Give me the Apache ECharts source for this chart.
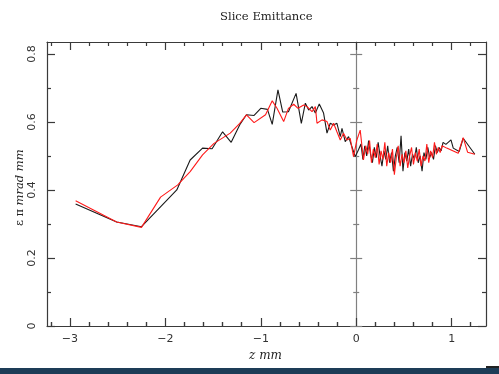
<!DOCTYPE html>
<html>
<head>
<meta charset="utf-8">
<script src="https://cdn.jsdelivr.net/npm/echarts@6/dist/echarts.min.js"></script>
<style>
html,body{margin:0;padding:0;background:#fff;}
#c{width:499px;height:374px;}
</style>
</head>
<body>
<div id="c"></div>
<script>
// ---- data ----
const blackX = [-2.94,-2.51,-2.25,-1.88,-1.74,-1.61,-1.51,-1.40,-1.31,-1.22,-1.15,-1.07,-1.00,-0.93,-0.88,-0.82,-0.77,-0.71,-0.63,
  -0.575,-0.533,-0.498,-0.463,-0.428,-0.387,-0.342,-0.306,-0.272,-0.237,-0.202,-0.167,-0.149,-0.115,-0.080,-0.045,-0.010,0.024,
  0.05,0.07,0.09,0.11,0.13,0.15,0.17,0.19,0.21,0.23,0.25,0.27,0.29,0.31,0.33,0.35,0.37,0.39,0.41,0.43,0.45,0.47,0.49,
  0.51,0.53,0.55,0.57,0.59,0.61,0.63,0.65,0.67,0.69,0.71,0.73,0.75,0.77,0.79,0.81,0.83,0.85,0.87,0.89,0.91,
  0.94,0.993,1.017,1.079,1.121,1.243];
const blackY = [0.359,0.306,0.292,0.400,0.488,0.523,0.521,0.571,0.540,0.592,0.621,0.619,0.640,0.637,0.593,0.694,0.629,0.630,0.684,
  0.596,0.655,0.635,0.645,0.626,0.653,0.626,0.567,0.596,0.591,0.596,0.557,0.581,0.542,0.557,0.527,0.498,0.518,
  0.535,0.490,0.530,0.500,0.545,0.505,0.480,0.525,0.495,0.540,0.500,0.470,0.515,0.490,0.530,0.480,0.510,0.455,0.500,0.525,0.480,0.559,0.455,
  0.510,0.485,0.520,0.470,0.505,0.490,0.525,0.480,0.500,0.455,0.510,0.490,0.525,0.495,0.510,0.490,0.530,0.510,0.525,0.515,0.540,
  0.534,0.547,0.523,0.513,0.552,0.505];
const redX = [-2.94,-2.51,-2.25,-2.05,-1.87,-1.74,-1.61,-1.49,-1.32,-1.22,-1.15,-1.07,-0.95,-0.88,-0.83,-0.76,-0.71,-0.655,-0.61,-0.55,
  -0.515,-0.463,-0.428,-0.411,-0.358,-0.306,-0.272,-0.237,-0.202,-0.167,-0.133,-0.097,-0.063,-0.028,0.007,0.042,0.076,
  0.10,0.12,0.14,0.16,0.18,0.20,0.22,0.24,0.26,0.28,0.30,0.32,0.34,0.36,0.38,0.40,0.42,0.44,0.46,0.48,0.50,0.52,0.54,0.56,0.58,
  0.60,0.62,0.64,0.66,0.68,0.70,0.72,0.74,0.76,0.78,0.80,0.82,0.84,0.86,0.88,0.90,
  0.948,1.069,1.121,1.167,1.243];
const redY = [0.368,0.306,0.290,0.379,0.415,0.454,0.503,0.537,0.567,0.596,0.621,0.598,0.621,0.662,0.640,0.601,0.640,0.652,0.640,0.650,
  0.645,0.630,0.645,0.596,0.606,0.601,0.576,0.596,0.571,0.547,0.567,0.547,0.552,0.498,0.547,0.576,0.488,
  0.530,0.505,0.545,0.480,0.520,0.495,0.535,0.475,0.515,0.490,0.540,0.470,0.510,0.480,0.520,0.445,0.495,0.530,0.470,0.505,0.480,0.515,0.465,0.500,0.525,
  0.475,0.510,0.485,0.520,0.470,0.500,0.485,0.535,0.480,0.515,0.495,0.540,0.505,0.525,0.510,0.530,
  0.523,0.508,0.554,0.511,0.505];
const xTickLabels = [-3,-2,-1,0,1];
const xMinorTicks = [-3.2,-2.8,-2.6,-2.4,-2.2,-1.8,-1.6,-1.4,-1.2,-0.8,-0.6,-0.4,-0.2,0.2,0.4,0.6,0.8,1.2];
const yTickLabels = [0,0.2,0.4,0.6,0.8];
const yMinorTicks = [0.1,0.3,0.5,0.7];

const pairs = (xs, ys) => xs.map((x, i) => [x, ys[i]]);

const frame = '#3a3a3a';
const zeroCol = '#808080';
const X_MIN = -3.24, X_MAX = 1.36, Y_MIN = 0, Y_MAX = 0.835;
const fmt = v => String(v).replace('-', '\u2212');

const mkX = (pos, vals, len, line) => ({
  type: 'value', min: X_MIN, max: X_MAX, position: pos, splitLine: {show: false},
  axisLine: {show: line, onZero: false, lineStyle: {color: frame, width: 1.2}},
  axisTick: {show: true, inside: true, length: len, customValues: vals, lineStyle: {color: frame, width: 1.2}},
  minorTick: {show: false}, axisLabel: {show: false}
});
const mkY = (pos, vals, len, line, col, inside, zeroIdx) => ({
  type: 'value', min: Y_MIN, max: Y_MAX, position: pos, splitLine: {show: false},
  axisLine: {show: line, onZero: zeroIdx != null, onZeroAxisIndex: zeroIdx, lineStyle: {color: col, width: 1.2}},
  axisTick: {show: true, inside: inside, length: len, customValues: vals, lineStyle: {color: col, width: 1.2}},
  minorTick: {show: false}, axisLabel: {show: false}
});

const xLabelAxis = mkX('bottom', xTickLabels, 8, true);
xLabelAxis.axisLabel = {show: true, margin: 8, customValues: xTickLabels,
  fontFamily: 'DejaVu Sans', fontSize: 11, color: '#333', formatter: v => fmt(v)};
const yLabelAxis = mkY('left', yTickLabels, 8, true, frame, true, null);
yLabelAxis.axisLabel = {show: true, rotate: 90, margin: 9, customValues: yTickLabels,
  fontFamily: 'DejaVu Sans', fontSize: 11, color: '#333', formatter: v => String(v)};

const chart = echarts.init(document.getElementById('c'), null, {renderer: 'canvas'});
chart.setOption({
  animation: false,
  backgroundColor: '#fff',
  grid: {left: 47, right: 13, top: 42, bottom: 48},
  xAxis: [
    xLabelAxis,
    mkX('top', xTickLabels, 8, true),
    mkX('bottom', xMinorTicks, 4, false),
    mkX('top', xMinorTicks, 4, false),
    mkX('bottom', xMinorTicks, 4, false)
  ],
  yAxis: [
    yLabelAxis,
    mkY('right', yTickLabels, 8, true, frame, true, null),
    mkY('left', yMinorTicks, 4, false, frame, true, null),
    mkY('right', yMinorTicks, 4, false, frame, true, null),
    mkY('left', yTickLabels, 6, true, zeroCol, true, 0),
    mkY('left', yTickLabels, 6, false, zeroCol, false, 1),
    mkY('left', yMinorTicks, 3, false, zeroCol, true, 2),
    mkY('left', yMinorTicks, 3, false, zeroCol, false, 3)
  ],
  series: [
    {type: 'line', xAxisIndex: 0, yAxisIndex: 0, data: pairs(blackX, blackY), showSymbol: false, symbol: 'none',
      lineStyle: {color: '#1a1a1a', width: 1.1}, z: 3},
    {type: 'line', xAxisIndex: 0, yAxisIndex: 0, data: pairs(redX, redY), showSymbol: false, symbol: 'none',
      lineStyle: {color: '#ff1a1a', width: 1.1}, z: 4}
  ],
  graphic: [
    {type: 'text', left: 220, top: 11, style: {text: 'Slice Emittance', font: '11.6px "DejaVu Serif"', fill: '#222'}},
    {type: 'text', x: 249, y: 350, style: {text: 'z mm', font: 'italic 12px "DejaVu Serif"', fill: '#222'}},
    {type: 'text', x: 14, y: 226, rotation: Math.PI / 2,
      style: {text: '{a|\u03b5 \u03c0} {b|mrad mm}', fill: '#222',
        rich: {a: {font: '11.5px "DejaVu Serif"', fill: '#222'}, b: {font: 'italic 11.5px "DejaVu Serif"', fill: '#222'}}}},
    {type: 'rect', shape: {x: 0, y: 368, width: 499, height: 6}, style: {fill: '#1d3c57'}},
    {type: 'rect', shape: {x: 486, y: 366, width: 13, height: 2}, style: {fill: '#222'}}
  ]
});
</script>
</body>
</html>
